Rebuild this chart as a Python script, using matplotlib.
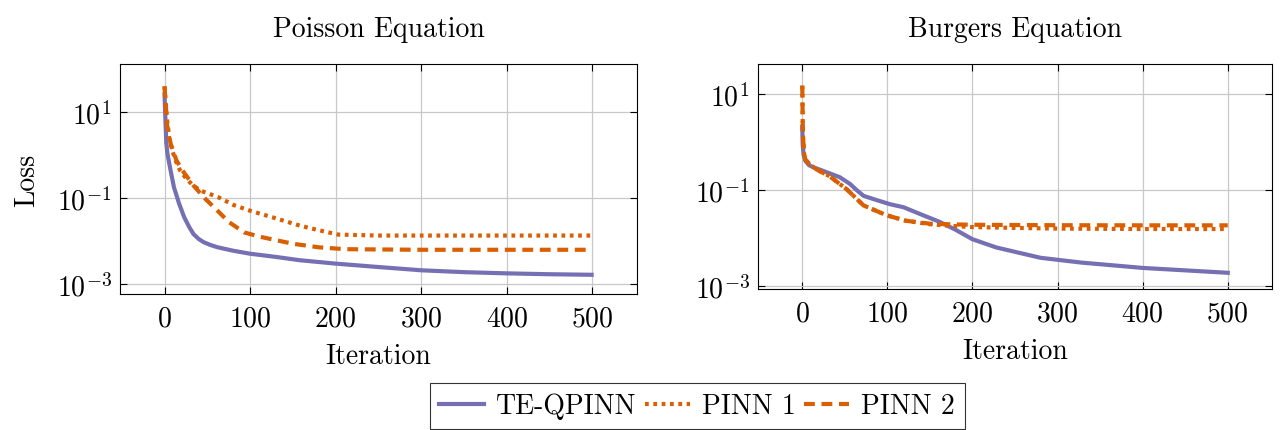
import numpy as np
import matplotlib
matplotlib.use('Agg')
import matplotlib.pyplot as plt
from matplotlib.ticker import NullLocator

plt.rcParams['font.family'] = ['cmr10', 'DejaVu Serif']
plt.rcParams['mathtext.fontset'] = 'cm'
plt.rcParams['axes.formatter.use_mathtext'] = True
plt.rcParams['font.size'] = 20

# Poisson equation
poisson_x_te = [0, 2, 3.5, 7, 11, 17, 23, 29, 34, 40, 46, 54, 62, 80, 100, 130, 158,
                200, 250, 300, 350, 400, 450, 499]
poisson_te = [26, 2.0, 1.05, 0.45, 0.18, 0.075, 0.036, 0.021, 0.0145, 0.0112,
              0.0094, 0.0081, 0.0072, 0.0060, 0.0051, 0.0043, 0.0036, 0.0030,
              0.0025, 0.0021, 0.0019, 0.00178, 0.0017, 0.00165]
poisson_x_p1 = [0, 2.5, 5.4, 9, 13, 18, 24.5, 33, 42, 62, 81, 100, 130, 158,
                180, 203, 250, 300, 400, 499]
poisson_p1 = [40, 8, 2.6, 1.3, 0.75, 0.45, 0.30, 0.20, 0.15, 0.107, 0.069,
              0.051, 0.034, 0.023, 0.018, 0.0142, 0.0135, 0.0135, 0.0135, 0.0135]
poisson_x_p2 = [0, 3, 7.3, 14, 21, 34, 48, 62, 75, 93, 112, 150, 180, 211,
                300, 400, 499]
poisson_p2 = [40, 5, 1.8, 0.75, 0.44, 0.195, 0.095, 0.051, 0.028, 0.016,
              0.0126, 0.0087, 0.0072, 0.0065, 0.0063, 0.0063, 0.0063]

# Burgers equation
burgers_x_te = [0, 0.5, 1.5, 3.5, 8, 13, 29, 44, 56, 64, 72, 85, 103, 119, 142,
                161, 180, 200, 228, 280, 328, 400, 500]
burgers_te = [2.1, 0.9, 0.55, 0.41, 0.33, 0.30, 0.235, 0.186, 0.135, 0.10,
              0.076, 0.064, 0.051, 0.044, 0.030, 0.022, 0.0150, 0.0095, 0.0064,
              0.0039, 0.0031, 0.0024, 0.0019]
burgers_x_p = [0, 0.7, 2, 3.5, 8, 16.7, 32, 52, 72, 99, 122, 150, 175, 200,
               300, 400, 500]
burgers_p1 = [15, 1.5, 0.6, 0.44, 0.35, 0.27, 0.195, 0.105, 0.048, 0.030,
              0.023, 0.0195, 0.018, 0.017, 0.0158, 0.0155, 0.0155]
burgers_p2 = [15, 1.5, 0.6, 0.44, 0.35, 0.27, 0.195, 0.105, 0.048, 0.030,
              0.023, 0.0200, 0.0194, 0.0190, 0.0186, 0.0185, 0.0185]

labels = ['TE-QPINN', 'PINN 1', 'PINN 2']
purple = '#7570b3'
orange = '#d95f02'
lw = 3.0
dotted = (0, (0.9, 1.1))
dashed = (0, (2.6, 1.6))

fig = plt.figure(figsize=(12.85, 4.31), dpi=100)
ax1 = fig.add_axes([0.0934, 0.3155, 0.4023, 0.5335])
ax2 = fig.add_axes([0.5899, 0.327, 0.4000, 0.522])

def style(ax, title, ylim, yticks):
    ax.set_yscale('log')
    ax.set_xlim(-52, 552)
    ax.set_ylim(*ylim)
    ax.set_xticks([0, 100, 200, 300, 400, 500])
    ax.set_yticks(yticks)
    ax.yaxis.set_minor_locator(NullLocator())
    ax.grid(True, color='#c8c8c8', linewidth=0.9)
    ax.set_axisbelow(True)
    ax.tick_params(direction='in', top=True, right=True, length=5, width=0.8,
                   labelsize=20, pad=6)
    ax.tick_params(axis='x', pad=8)
    ax.set_title(title, fontsize=20, pad=20)
    ax.set_xlabel('Iteration', fontsize=20, labelpad=8)
    for s in ax.spines.values():
        s.set_linewidth(0.8)

l1, = ax1.plot(poisson_x_te, poisson_te, color=purple, lw=lw)
l2, = ax1.plot(poisson_x_p1, poisson_p1, color=orange, lw=lw, linestyle=dotted)
l3, = ax1.plot(poisson_x_p2, poisson_p2, color=orange, lw=lw, linestyle=dashed)
style(ax1, 'Poisson Equation', (10**-3.23, 10**2.12), [10, 0.1, 0.001])
ax1.set_ylabel('Loss', fontsize=20, labelpad=12)

ax2.plot(burgers_x_te, burgers_te, color=purple, lw=lw)
ax2.plot(burgers_x_p, burgers_p1, color=orange, lw=lw, linestyle=dotted)
ax2.plot(burgers_x_p, burgers_p2, color=orange, lw=lw, linestyle=dashed)
style(ax2, 'Burgers Equation', (10**-3.06, 10**1.625), [10, 0.1, 0.001])

leg = fig.legend([l1, l2, l3], labels, loc='lower center', ncol=3,
                 bbox_to_anchor=(0.5425, -0.03), fontsize=20, frameon=True,
                 fancybox=False, edgecolor='black', handlelength=1.6,
                 handletextpad=0.45, columnspacing=0.3, borderpad=0.35)
leg.get_frame().set_linewidth(0.8)

fig.savefig('out.png', dpi=100)
